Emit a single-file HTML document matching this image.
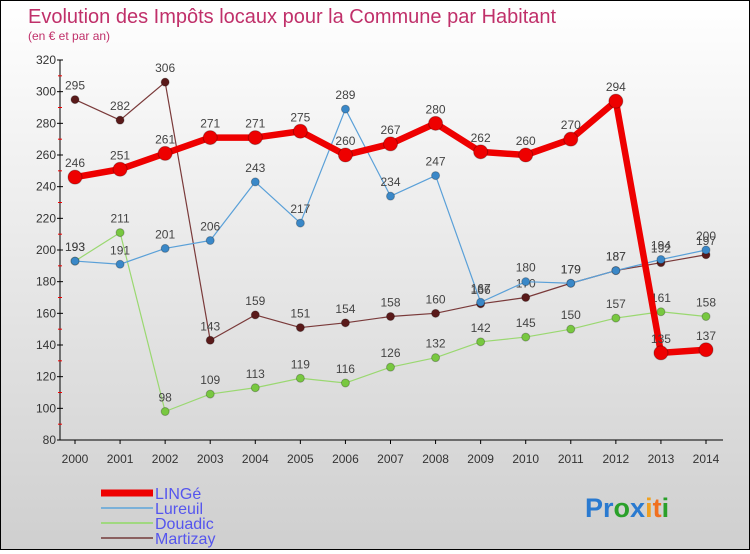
<!DOCTYPE html>
<html><head><meta charset="utf-8"><style>
html,body{margin:0;padding:0}
body{width:750px;height:550px;overflow:hidden;font-family:"Liberation Sans","DejaVu Sans",sans-serif}
#wrap{position:relative;width:748px;height:548px;border:1px solid #000;background:linear-gradient(#ffffff,#cfcfcf)}
svg text{font-family:"Liberation Sans",sans-serif}
</style></head><body>
<div id="wrap">
<svg id="chart" width="748" height="548">
<text x="27" y="22" font-size="20" fill="#c0306a">Evolution des Impôts locaux pour la Commune par Habitant</text>
<text x="27" y="39" font-size="12" fill="#c0306a">(en € et par an)</text>
</svg>
</div>
<script>
const years=["2000","2001","2002","2003","2004","2005","2006","2007","2008","2009","2010","2011","2012","2013","2014"];
const yTicks=[80,100,120,140,160,180,200,220,240,260,280,300,320];
const linge=[246,251,261,271,271,275,260,267,280,262,260,270,294,135,137];
const lureuil=[193,191,201,206,243,217,289,234,247,167,180,179,187,194,200];
const douadic=[193,211,98,109,113,119,116,126,132,142,145,150,157,161,158];
const martizay=[295,282,306,143,159,151,154,158,160,166,170,179,187,192,197];
const svg=document.getElementById('chart');
const NS='http://www.w3.org/2000/svg';
const x0=74,x1=705,yBase=439,yTop=59,vMin=80,vMax=320;
function xs(i){return x0+(x1-x0)*i/(years.length-1);}
function ys(v){return yBase-(v-vMin)*(yBase-yTop)/(vMax-vMin);}
function mk(t,a){const e=document.createElementNS(NS,t);for(const k in a)e.setAttribute(k,a[k]);svg.appendChild(e);return e;}
let ax=mk('line',{x1:59,y1:yTop,x2:59,y2:yBase,stroke:'#000','stroke-width':1});


let bx=mk('line',{x1:59,y1:yBase,x2:722,y2:yBase,stroke:'#000','stroke-width':1});


yTicks.forEach((v,i)=>{
  mk('line',{x1:56,y1:ys(v),x2:62,y2:ys(v),stroke:'#000'});
  if(i<yTicks.length-1){mk('line',{x1:57,y1:ys(v+10),x2:61,y2:ys(v+10),stroke:'#e00'});}
  const t=mk('text',{x:55,y:ys(v)+4,'font-size':12,fill:'#333','text-anchor':'end'});
  t.textContent=v;
  
  
});
years.forEach((y,i)=>{
  mk('line',{x1:xs(i),y1:yBase,x2:xs(i),y2:yBase+4,stroke:'#000'});
  const t=mk('text',{x:xs(i),y:yBase+23,'font-size':12,fill:'#333','text-anchor':'middle'});
  t.textContent=y;
  
  
});
function series(data,color,dot,w,r,name){
  const pts=data.map((v,i)=>xs(i)+','+ys(v)).join(' ');
  const p=mk('polyline',{points:pts,fill:'none',stroke:color,'stroke-width':w,'stroke-linejoin':'round'});
  
  
  data.forEach((v,i)=>{
    const c=mk('circle',{cx:xs(i),cy:ys(v),r:r,fill:dot,stroke:'#000','stroke-opacity':0.25});
    
    
    const t=mk('text',{x:xs(i),y:ys(v)-10,'font-size':12,fill:'#444','text-anchor':'middle'});
    t.textContent=v;
    
    
  });
}
series(martizay,'#7a3a3a','#5a1a1a',1.2,4,'martizay');
series(douadic,'#9ad870','#78c840',1.2,4,'douadic');
series(lureuil,'#5aa0d8','#3a88c8',1.2,4,'lureuil');
series(linge,'#ee0000','#ee0000',6.5,7,'linge');
const leg=[["LINGé","#ee0000",7],["Lureuil","#7ab0d8",2],["Douadic","#a0d880",2],["Martizay","#8a6060",2]];
leg.forEach((l,i)=>{
  const y=492+i*15;
  const ln=mk('line',{x1:100,y1:y,x2:152,y2:y,stroke:l[1],'stroke-width':l[2]});
  
  
  const t=mk('text',{x:154,y:y+6,'font-size':16,fill:'#5555ee'});
  t.textContent=l[0];
  
  
});
const logo=mk('text',{x:584,y:516,'font-size':27,'font-weight':'bold'});


[["P","#2a7ad0"],["r","#2a7ad0"],["o","#2aa02a"],["x","#2a7ad0"],["i","#f0a020"],["t","#f07020"],["i","#2aa02a"]].forEach(c=>{
  const s=document.createElementNS(NS,'tspan');s.setAttribute('fill',c[1]);s.textContent=c[0];logo.appendChild(s);
});
</script>
</body></html>
